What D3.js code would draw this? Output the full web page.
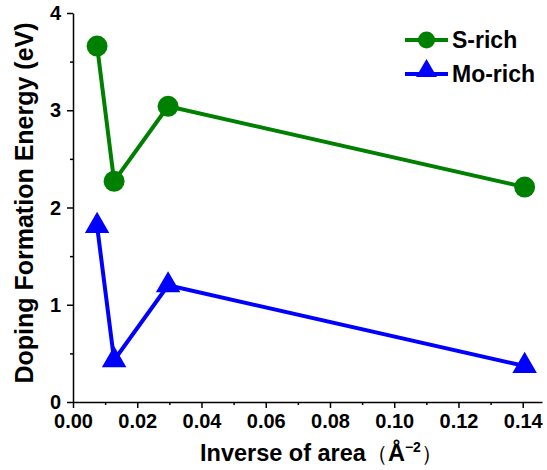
<!DOCTYPE html>
<html>
<head>
    <title>Doping Formation Energy</title>
    <style>
        body { margin: 0; background: #fff; }
        svg text { font-family: "Liberation Sans", Arial, sans-serif; font-weight: bold; }
    </style>
</head>
<body>
    <div id="chart"></div>
    <script src="https://d3js.org/d3.v7.min.js"></script>
    <script>
        // data
        const inverseArea = [0.0075, 0.0128, 0.0296, 0.1406];
        const sRich = [3.66, 2.27, 3.04, 2.21];
        const moRich = [1.81, 0.43, 1.20, 0.37];
        const xTicks = [0, 0.02, 0.04, 0.06, 0.08, 0.10, 0.12, 0.14];
        const yTicks = [0, 1, 2, 3, 4];
        const seriesNames = ["S-rich", "Mo-rich"];

        const W = 547, H = 470;
        const margin = { top: 13, right: 5, bottom: 68, left: 73 };
        const width = W - margin.left - margin.right;
        const height = H - margin.top - margin.bottom;

        const svg = d3.select("#chart").append("svg")
            .attr("width", W)
            .attr("height", H);

        const g = svg.append("g")
            .attr("transform", "translate(" + margin.left + "," + margin.top + ")");

        const x = d3.scaleLinear().domain([0, 0.146]).range([0, width]);
        const y = d3.scaleLinear().domain([0, 4]).range([height, 0]);

        // minor ticks first, then major axes
        const xMinor = d3.range(0.01, 0.146, 0.02);
        const yMinor = [0.5, 1.5, 2.5, 3.5];

        g.append("g")
            .attr("transform", "translate(0," + height + ")")
            .call(d3.axisBottom(x).tickValues(xMinor).tickSize(3).tickFormat(""))
            .call(s => s.select(".domain").remove());
        g.append("g")
            .call(d3.axisLeft(y).tickValues(yMinor).tickSize(3).tickFormat(""))
            .call(s => s.select(".domain").remove());

        const xAxis = g.append("g")
            .attr("transform", "translate(0," + height + ")")
            .call(d3.axisBottom(x).tickValues(xTicks).tickSize(6).tickSizeOuter(0)
                .tickPadding(8).tickFormat(d3.format(".2f")));
        const yAxis = g.append("g")
            .call(d3.axisLeft(y).tickValues(yTicks).tickSize(6).tickSizeOuter(0)
                .tickPadding(6).tickFormat(d3.format("d")));

        [xAxis, yAxis].forEach(a => {
            a.selectAll("text").style("font-size", "20px").attr("fill", "#000");
            a.select(".domain").attr("stroke", "#000").attr("stroke-width", 1.5);
        });
        yAxis.selectAll("text").attr("dy", "0.33em");
        xAxis.selectAll("text").attr("dy", "0.62em");
        g.selectAll(".tick line").attr("stroke", "#000").attr("stroke-width", 1.5);

        // axis titles
        svg.append("text")
            .attr("transform", "translate(33,203) rotate(-90)")
            .attr("text-anchor", "middle")
            .style("font-size", "25px")
            .text("Doping Formation Energy (eV)");

        const xl = svg.append("text")
            .attr("x", 200)
            .attr("y", 461)
            .style("font-size", "23.5px");
        xl.append("tspan").text("Inverse of area");
        xl.append("tspan").style("font-weight", "normal").style("font-size", "22px").text("（");
        xl.append("tspan").text("Å");
        xl.append("tspan").attr("dy", -9).style("font-size", "14px").text("−2");
        xl.append("tspan").attr("dy", 9).style("font-weight", "normal").style("font-size", "22px").text("）");

        const line = d3.line().x((d, i) => x(inverseArea[i])).y(d => y(d));
        const tri = d3.symbol().type(d3.symbolTriangle).size(260);

        // S-rich
        g.append("path").datum(sRich)
            .attr("d", line)
            .attr("fill", "none").attr("stroke", "#008000").attr("stroke-width", 4);
        g.selectAll(".s-pt").data(sRich).enter().append("circle")
            .attr("class", "s-pt")
            .attr("cx", (d, i) => x(inverseArea[i]))
            .attr("cy", d => y(d))
            .attr("r", 10.5)
            .attr("fill", "#008000");

        // Mo-rich
        g.append("path").datum(moRich)
            .attr("d", line)
            .attr("fill", "none").attr("stroke", "#0000ff").attr("stroke-width", 4);
        g.selectAll(".m-pt").data(moRich).enter().append("path")
            .attr("class", "m-pt")
            .attr("d", tri)
            .attr("transform", (d, i) => "translate(" + x(inverseArea[i]) + "," + y(d) + ")")
            .attr("fill", "#0000ff");

        // legend
        const legend = svg.append("g");
        const legendColors = ["#008000", "#0000ff"];
        const legendY = [40, 74];
        seriesNames.forEach((name, i) => {
            const row = legend.append("g").attr("transform", "translate(405," + legendY[i] + ")");
            row.append("line").attr("x1", 0).attr("x2", 43)
                .attr("stroke", legendColors[i]).attr("stroke-width", 4);
            if (i === 0) {
                row.append("circle").attr("cx", 21.5).attr("cy", 0).attr("r", 8.5).attr("fill", legendColors[i]);
            } else {
                row.append("path").attr("d", d3.symbol().type(d3.symbolTriangle).size(190))
                    .attr("transform", "translate(21.5,-3)").attr("fill", legendColors[i]);
            }
            row.append("text").attr("x", 47).attr("y", 8)
                .style("font-size", "23px").text(name);
        });
    </script>
</body>
</html>
